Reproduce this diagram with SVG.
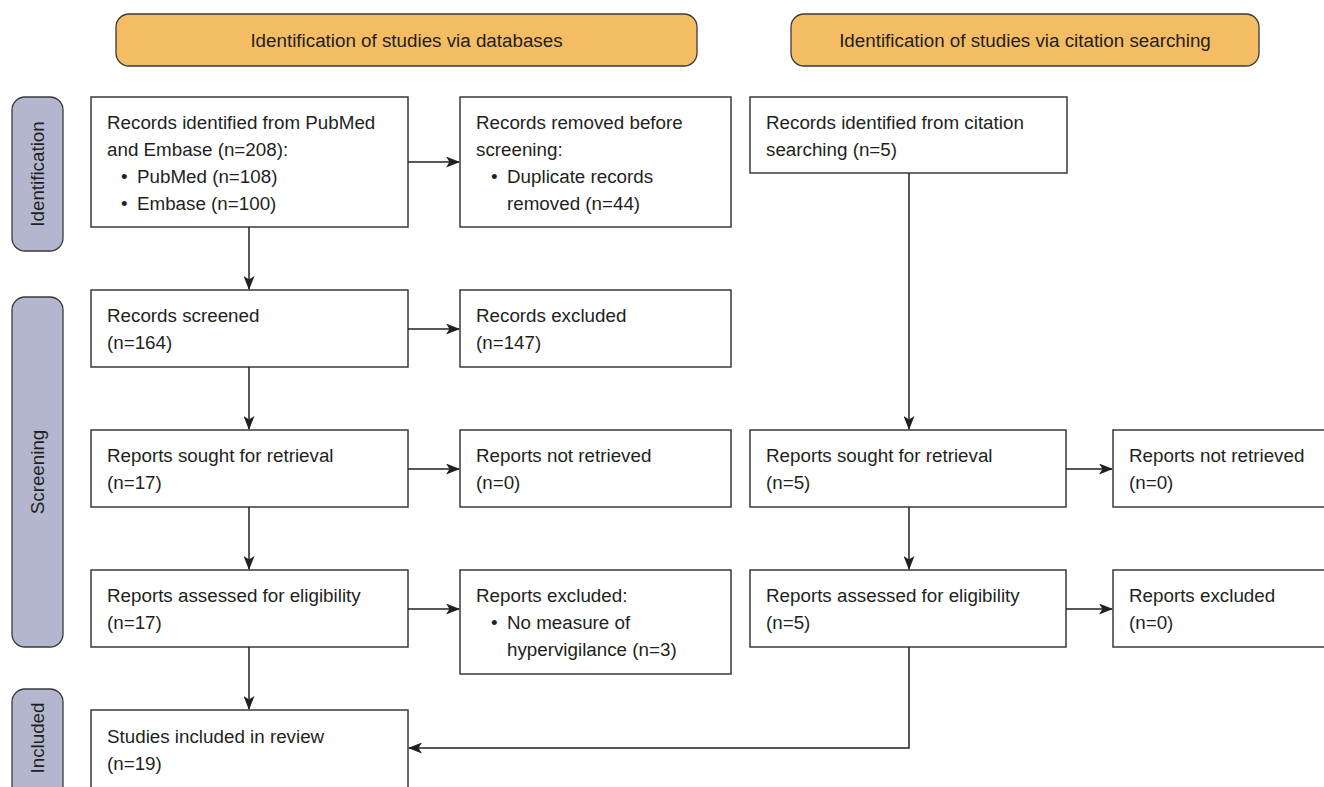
<svg xmlns="http://www.w3.org/2000/svg" width="1324" height="787" viewBox="0 0 1324 787">
<style>
text{font-family:"Liberation Sans",Arial,sans-serif;font-size:18.8px;fill:#231f20}
.box{fill:#fff;stroke:#3a3a3a;stroke-width:1.5}
.hdr{fill:#f5bd63;stroke:#3a3a3a;stroke-width:1.3}
.side{fill:#b4b6d0;stroke:#3a3a3a;stroke-width:1.3}
.c{text-anchor:middle}
.ln{fill:none;stroke:#231f20;stroke-width:1.5}
</style>
<defs>
<marker id="ah" viewBox="0 0 14 11" refX="13" refY="5.5" markerWidth="14" markerHeight="11" markerUnits="userSpaceOnUse" orient="auto">
<path d="M0,0 L14,5.5 L0,11 L3.5,5.5 Z" fill="#231f20"/>
</marker>
</defs>
<rect width="1324" height="787" fill="#fff"/>
<g id="hdr1"><rect class="hdr" x="116" y="14" width="581" height="52" rx="13"/><text class="c" x="406.5" y="47">Identification of studies via databases</text></g>
<g id="hdr2"><rect class="hdr" x="791" y="14" width="468" height="52" rx="13"/><text class="c" x="1025" y="47">Identification of studies via citation searching</text></g>
<g id="side1"><rect class="side" x="12" y="97" width="51" height="154" rx="13"/><text class="c" transform="translate(44,174) rotate(-90)">Identification</text></g>
<g id="side2"><rect class="side" x="12" y="297" width="51" height="350" rx="13"/><text class="c" transform="translate(44,472) rotate(-90)">Screening</text></g>
<g id="side3"><rect class="side" x="12" y="689" width="51" height="120" rx="13"/><text class="c" transform="translate(44,738) rotate(-90)">Included</text></g>
<g id="nA"><rect class="box" x="91" y="97" width="317" height="130"/><text x="107" y="129">Records identified from PubMed</text><text x="107" y="156">and Embase (n=208):</text><text x="121" y="183">•</text><text x="137" y="183">PubMed (n=108)</text><text x="121" y="210">•</text><text x="137" y="210">Embase (n=100)</text></g>
<g id="nB"><rect class="box" x="460" y="97" width="271" height="130"/><text x="476" y="129">Records removed before</text><text x="476" y="156">screening:</text><text x="491" y="183">•</text><text x="507" y="183">Duplicate records</text><text x="507" y="210">removed (n=44)</text></g>
<g id="nC"><rect class="box" x="750" y="97" width="317" height="76"/><text x="766" y="129">Records identified from citation</text><text x="766" y="156">searching (n=5)</text></g>
<g id="nD"><rect class="box" x="91" y="290" width="317" height="77"/><text x="107" y="322">Records screened</text><text x="107" y="349">(n=164)</text></g>
<g id="nE"><rect class="box" x="460" y="290" width="271" height="77"/><text x="476" y="322">Records excluded</text><text x="476" y="349">(n=147)</text></g>
<g id="nF"><rect class="box" x="91" y="430" width="317" height="77"/><text x="107" y="462">Reports sought for retrieval</text><text x="107" y="489">(n=17)</text></g>
<g id="nG"><rect class="box" x="460" y="430" width="271" height="77"/><text x="476" y="462">Reports not retrieved</text><text x="476" y="489">(n=0)</text></g>
<g id="nH"><rect class="box" x="750" y="430" width="316" height="77"/><text x="766" y="462">Reports sought for retrieval</text><text x="766" y="489">(n=5)</text></g>
<g id="nI"><rect class="box" x="1113" y="430" width="220" height="77"/><text x="1129" y="462">Reports not retrieved</text><text x="1129" y="489">(n=0)</text></g>
<g id="nJ"><rect class="box" x="91" y="570" width="317" height="77"/><text x="107" y="602">Reports assessed for eligibility</text><text x="107" y="629">(n=17)</text></g>
<g id="nK"><rect class="box" x="460" y="570" width="271" height="104"/><text x="476" y="602">Reports excluded:</text><text x="491" y="629">•</text><text x="507" y="629">No measure of</text><text x="507" y="656">hypervigilance (n=3)</text></g>
<g id="nL"><rect class="box" x="750" y="570" width="316" height="77"/><text x="766" y="602">Reports assessed for eligibility</text><text x="766" y="629">(n=5)</text></g>
<g id="nM"><rect class="box" x="1113" y="570" width="220" height="77"/><text x="1129" y="602">Reports excluded</text><text x="1129" y="629">(n=0)</text></g>
<g id="nN"><rect class="box" x="91" y="710" width="317" height="100"/><text x="107" y="743">Studies included in review</text><text x="107" y="770">(n=19)</text></g>
<g id="connectors">
<line class="ln" x1="408" y1="162" x2="459" y2="162" marker-end="url(#ah)"/>
<line class="ln" x1="249" y1="227" x2="249" y2="289" marker-end="url(#ah)"/>
<line class="ln" x1="408" y1="329" x2="459" y2="329" marker-end="url(#ah)"/>
<line class="ln" x1="249" y1="367" x2="249" y2="429" marker-end="url(#ah)"/>
<line class="ln" x1="408" y1="469" x2="459" y2="469" marker-end="url(#ah)"/>
<line class="ln" x1="249" y1="507" x2="249" y2="569" marker-end="url(#ah)"/>
<line class="ln" x1="408" y1="609" x2="459" y2="609" marker-end="url(#ah)"/>
<line class="ln" x1="249" y1="647" x2="249" y2="709" marker-end="url(#ah)"/>
<line class="ln" x1="909" y1="173" x2="909" y2="429" marker-end="url(#ah)"/>
<line class="ln" x1="1066" y1="469" x2="1112" y2="469" marker-end="url(#ah)"/>
<line class="ln" x1="909" y1="507" x2="909" y2="569" marker-end="url(#ah)"/>
<line class="ln" x1="1066" y1="609" x2="1112" y2="609" marker-end="url(#ah)"/>
<polyline class="ln" points="909,647 909,748 409,748" marker-end="url(#ah)"/>
</g>
</svg>
